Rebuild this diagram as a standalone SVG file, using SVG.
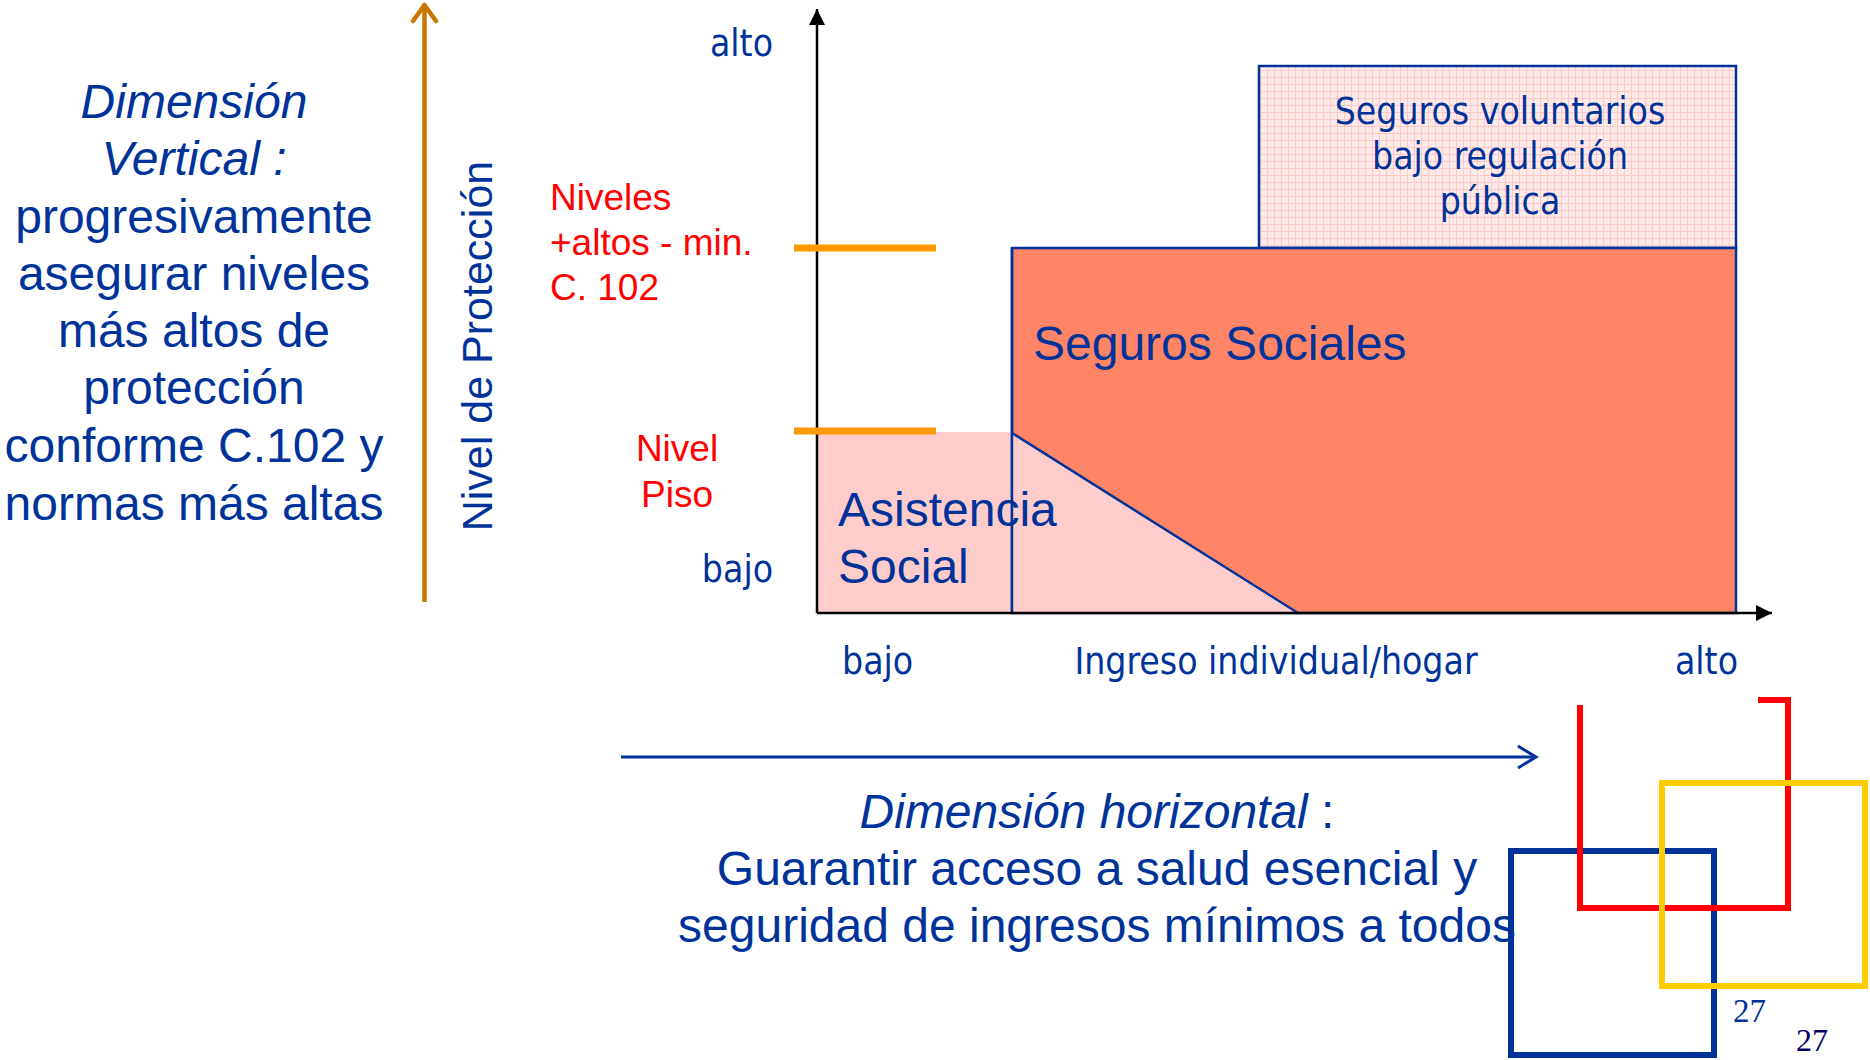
<svg xmlns="http://www.w3.org/2000/svg" width="1870" height="1060" viewBox="0 0 1870 1060">
<style>
.sans{font-family:"Liberation Sans",Arial,sans-serif}
.big{font-size:48px;fill:#003399}
.hum{font-family:"DejaVu Sans Condensed","DejaVu Sans",sans-serif;font-size:37px;fill:#003399}
.red{font-family:"Liberation Sans",Arial,sans-serif;font-size:37px;fill:#FF0000}
.ax{stroke:#000;stroke-width:2.5;fill:none}
.bar{stroke:#FF9900;stroke-width:7}
.bl{stroke:#003399;stroke-width:2.5}
.deco{fill:none;stroke-width:6}
</style>
<defs>
<marker id="tri" viewBox="0 0 10 10" refX="10" refY="5" markerWidth="16" markerHeight="16" orient="auto" markerUnits="userSpaceOnUse">
<path d="M0,0 L10,5 L0,10 z" fill="#000"/>
</marker>
<pattern id="grid" width="7" height="7" patternUnits="userSpaceOnUse">
<rect width="7" height="7" fill="#FFEAEA"/>
<path d="M0,0.5 H7 M0.5,0 V7" stroke="#FFC8C8" stroke-width="1"/>
</pattern>
</defs>
<rect width="1870" height="1060" fill="#fff"/>

<g id="left-text" class="sans big" text-anchor="middle">
<text x="194" y="118" font-style="italic">Dimensión</text>
<text x="194" y="175" font-style="italic">Vertical :</text>
<text x="194" y="233">progresivamente</text>
<text x="194" y="290">asegurar niveles</text>
<text x="194" y="347">más altos de</text>
<text x="194" y="404">protección</text>
<text x="194" y="462">conforme C.102 y</text>
<text x="194" y="520">normas más altas</text>
</g>

<g id="vertical-arrow">
<line x1="424.5" y1="602" x2="424.5" y2="4" stroke="#C87800" stroke-width="4.5"/>
<polyline points="413,21 424.5,5 436,21" fill="none" stroke="#C87800" stroke-width="4.5" stroke-linecap="round" stroke-linejoin="round"/>
</g>
<g id="axis-title">
<text class="sans" font-size="43" fill="#003399" text-anchor="middle" transform="translate(492,346) rotate(-90)">Nivel de Protección</text>
</g>

<g id="asistencia">
<rect x="817" y="432" width="195" height="181" fill="#FFCCCC"/>
</g>
<g id="seguros-voluntarios">
<rect x="1259" y="66" width="477" height="182" fill="url(#grid)" stroke="#003399" stroke-width="2.5"/>
<text class="hum" text-anchor="middle" x="1500" y="124">Seguros voluntarios</text>
<text class="hum" text-anchor="middle" x="1500" y="169">bajo regulación</text>
<text class="hum" text-anchor="middle" x="1500" y="214">pública</text>
</g>
<g id="seguros-sociales">
<rect x="1012" y="248" width="724" height="365" fill="#FF8566" stroke="#003399" stroke-width="2.5"/>
<polygon points="1012,433 1298,613 1012,613" fill="#FFCCCC"/>
<line x1="1012" y1="433" x2="1298" y2="613" class="bl"/>
<line x1="1012" y1="248" x2="1012" y2="613" class="bl"/>
<text class="sans big" x="1033" y="360">Seguros Sociales</text>
</g>
<g id="asistencia-label" class="sans big">
<text x="838" y="526">Asistencia</text>
<text x="838" y="583">Social</text>
</g>

<g id="connectors">
<line x1="817" y1="613" x2="817" y2="9" class="ax" marker-end="url(#tri)"/>
<line x1="817" y1="613" x2="1772" y2="613" class="ax" marker-end="url(#tri)"/>
<line x1="794" y1="248" x2="936" y2="248" class="bar"/>
<line x1="794" y1="431" x2="936" y2="431" class="bar"/>
<line x1="621" y1="757" x2="1535" y2="757" stroke="#003399" stroke-width="3"/>
<polyline points="1518,746 1536,757 1518,768" fill="none" stroke="#003399" stroke-width="3"/>
</g>

<g id="axis-labels" class="hum">
<text x="773" y="56" text-anchor="end">alto</text>
<text x="773" y="582" text-anchor="end">bajo</text>
<text x="842" y="674">bajo</text>
<text x="1276" y="674" text-anchor="middle">Ingreso individual/hogar</text>
<text x="1738" y="674" text-anchor="end">alto</text>
</g>

<g id="level-labels">
<text class="red" x="550" y="210">Niveles</text>
<text class="red" x="550" y="255">+altos - min.</text>
<text class="red" x="550" y="300">C. 102</text>
<text class="red" x="677" y="461" text-anchor="middle">Nivel</text>
<text class="red" x="677" y="507" text-anchor="middle">Piso</text>
</g>

<g id="bottom-text" class="sans big" text-anchor="middle">
<text x="1097" y="828"><tspan font-style="italic">Dimensión horizontal</tspan> :</text>
<text x="1097" y="885">Guarantir acceso a salud esencial y</text>
<text x="1097" y="942">seguridad de ingresos mínimos a todos</text>
</g>

<g id="decoration">
<rect x="1511" y="851" width="203" height="204" class="deco" stroke="#003399"/>
<polyline points="1580,705 1580,908 1788,908 1788,700 1758,700" class="deco" stroke="#FF0000"/>
<rect x="1662" y="783" width="203" height="203" class="deco" stroke="#FFCC00"/>
<text x="1733" y="1022" font-family="Liberation Serif,serif" font-size="33" fill="#003399">27</text>
<text x="1796" y="1051" font-family="Liberation Serif,serif" font-size="32" fill="#000066">27</text>
</g>
</svg>
